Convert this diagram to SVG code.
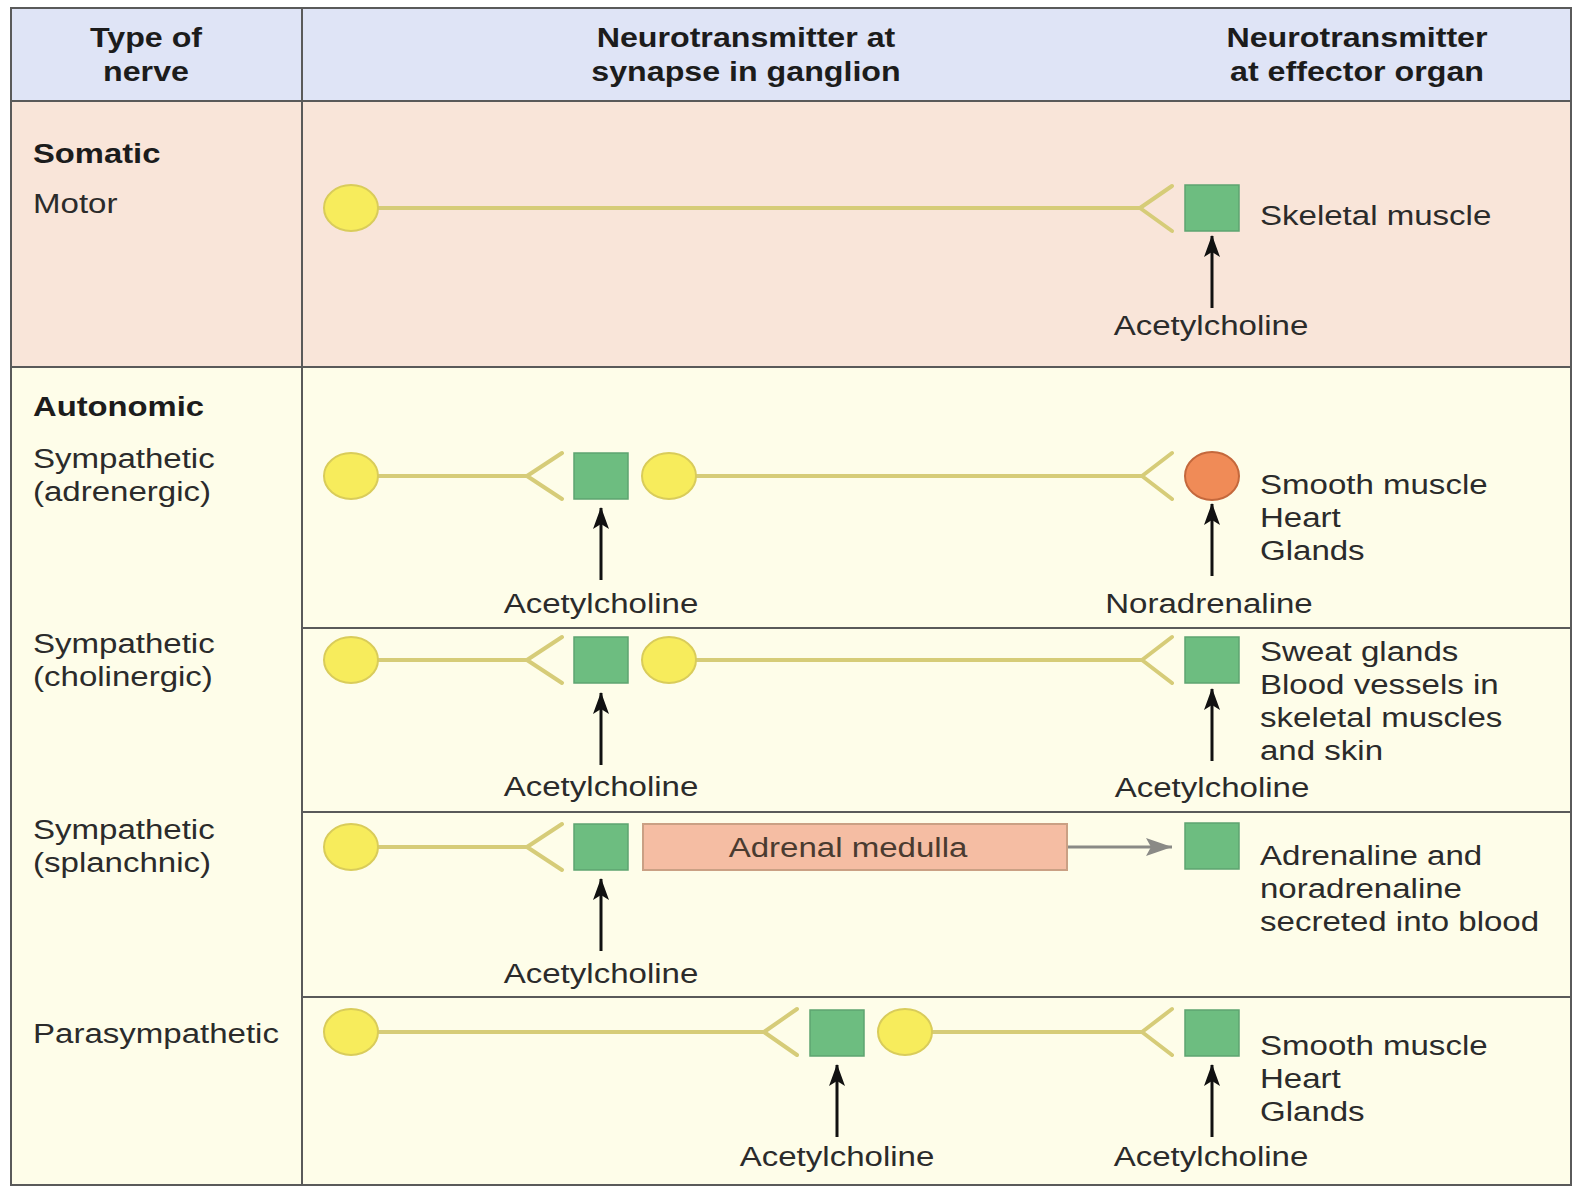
<svg xmlns="http://www.w3.org/2000/svg" width="1574" height="1188" viewBox="0 0 1574 1188">
<defs>
<marker id="ah" markerWidth="22" markerHeight="16" refX="21" refY="8" orient="auto" markerUnits="userSpaceOnUse" viewBox="0 0 22 16">
<path d="M0,0 L22,8 L0,16 L5,8 Z" fill="#111"/>
</marker>
<marker id="gh" markerWidth="26" markerHeight="18" refX="26" refY="9" orient="auto" markerUnits="userSpaceOnUse" viewBox="0 0 26 18">
<path d="M0,0 L26,9 L0,18 L5,9 Z" fill="#8a8a86"/>
</marker>
<style>
.t{font-family:"Liberation Sans",Arial,Helvetica,sans-serif;font-size:28px;fill:#2b2b2b}
.b{font-weight:bold;fill:#1c1c1c}
.m{text-anchor:middle}
.cell{stroke:#5a5a5a;stroke-width:2}
.nerve{fill:none;stroke:#d6cc78;stroke-width:4;stroke-linecap:round;stroke-linejoin:round}
.soma{fill:#f7ec5c;stroke:#d9cc5a;stroke-width:2}
.rec{fill:#6dbd80;stroke:#5ea470;stroke-width:1.5}
.nor{fill:#f08b57;stroke:#c4683c;stroke-width:2}
.arr{stroke:#111;stroke-width:3;marker-end:url(#ah)}
.garr{stroke:#8a8a86;stroke-width:3;marker-end:url(#gh)}
</style>
</defs>

<g id="table">
<rect x="11" y="8" width="1560" height="93" fill="#dfe4f6"/>
<rect x="11" y="101" width="1560" height="266" fill="#f9e5d9"/>
<rect x="11" y="367" width="1560" height="818" fill="#fefde9"/>
<rect x="11" y="8" width="1560" height="1177" fill="none" class="cell"/>
<line x1="11" y1="101" x2="1571" y2="101" class="cell"/>
<line x1="11" y1="367" x2="1571" y2="367" class="cell"/>
<line x1="302" y1="8" x2="302" y2="1185" class="cell"/>
<line x1="302" y1="628" x2="1571" y2="628" class="cell"/>
<line x1="302" y1="812" x2="1571" y2="812" class="cell"/>
<line x1="302" y1="997" x2="1571" y2="997" class="cell"/>
</g>

<g id="headers">
<text class="t b m" transform="translate(146,47) scale(1.15,1)"><tspan x="0" y="0">Type of</tspan><tspan x="0" y="34">nerve</tspan></text>
<text class="t b m" transform="translate(746,47) scale(1.15,1)"><tspan x="0" y="0">Neurotransmitter at</tspan><tspan x="0" y="34">synapse in ganglion</tspan></text>
<text class="t b m" transform="translate(1357,47) scale(1.15,1)"><tspan x="0" y="0">Neurotransmitter</tspan><tspan x="0" y="34">at effector organ</tspan></text>
</g>

<g id="row-labels">
<text class="t b" transform="translate(33,163) scale(1.17,1)">Somatic</text>
<text class="t" transform="translate(33,213) scale(1.18,1)">Motor</text>
<text class="t b" transform="translate(33,416) scale(1.17,1)">Autonomic</text>
<text class="t" transform="translate(33,468) scale(1.18,1)"><tspan x="0" y="0">Sympathetic</tspan><tspan x="0" y="33">(adrenergic)</tspan></text>
<text class="t" transform="translate(33,653) scale(1.18,1)"><tspan x="0" y="0">Sympathetic</tspan><tspan x="0" y="33">(cholinergic)</tspan></text>
<text class="t" transform="translate(33,839) scale(1.18,1)"><tspan x="0" y="0">Sympathetic</tspan><tspan x="0" y="33">(splanchnic)</tspan></text>
<text class="t" transform="translate(33,1043) scale(1.18,1)">Parasympathetic</text>
</g>

<g id="connectors">
<path class="nerve" d="M378,208 H1140 M1172,186 L1140,208 L1172,231"/>
<line class="arr" x1="1212" y1="308" x2="1212" y2="236"/>
<path class="nerve" d="M378,476 H527 M562,453 L527,476 L562,499"/>
<path class="nerve" d="M696,476 H1142 M1172,453 L1142,476 L1172,499"/>
<line class="arr" x1="601" y1="580" x2="601" y2="508"/>
<line class="arr" x1="1212" y1="576" x2="1212" y2="504"/>
<path class="nerve" d="M378,660 H527 M562,637 L527,660 L562,683"/>
<path class="nerve" d="M696,660 H1142 M1172,637 L1142,660 L1172,683"/>
<line class="arr" x1="601" y1="765" x2="601" y2="693"/>
<line class="arr" x1="1212" y1="761" x2="1212" y2="689"/>
<path class="nerve" d="M378,847 H527 M562,824 L527,847 L562,870"/>
<line class="garr" x1="1067" y1="847" x2="1172" y2="847"/>
<line class="arr" x1="601" y1="951" x2="601" y2="879"/>
<path class="nerve" d="M378,1032 H764 M797,1009 L764,1032 L797,1055"/>
<path class="nerve" d="M932,1032 H1142 M1172,1009 L1142,1032 L1172,1055"/>
<line class="arr" x1="837" y1="1137" x2="837" y2="1065"/>
<line class="arr" x1="1212" y1="1137" x2="1212" y2="1065"/>
</g>

<g id="somatic-motor">
<ellipse class="soma" cx="351" cy="208" rx="27" ry="23"/>
<rect class="rec" x="1185" y="185" width="54" height="46"/>
<text class="t" transform="translate(1260,225) scale(1.18,1)">Skeletal muscle</text>
<text class="t m" transform="translate(1211,335) scale(1.18,1)">Acetylcholine</text>
</g>

<g id="sympathetic-adrenergic">
<ellipse class="soma" cx="351" cy="476" rx="27" ry="23"/>
<rect class="rec" x="574" y="453" width="54" height="46"/>
<ellipse class="soma" cx="669" cy="476" rx="27" ry="23"/>
<ellipse class="nor" cx="1212" cy="476" rx="27" ry="24"/>
<text class="t" transform="translate(1260,494) scale(1.18,1)"><tspan x="0" y="0">Smooth muscle</tspan><tspan x="0" y="33">Heart</tspan><tspan x="0" y="66">Glands</tspan></text>
<text class="t m" transform="translate(601,613) scale(1.18,1)">Acetylcholine</text>
<text class="t m" transform="translate(1209,613) scale(1.18,1)">Noradrenaline</text>
</g>

<g id="sympathetic-cholinergic">
<ellipse class="soma" cx="351" cy="660" rx="27" ry="23"/>
<rect class="rec" x="574" y="637" width="54" height="46"/>
<ellipse class="soma" cx="669" cy="660" rx="27" ry="23"/>
<rect class="rec" x="1185" y="637" width="54" height="46"/>
<text class="t" transform="translate(1260,661) scale(1.18,1)"><tspan x="0" y="0">Sweat glands</tspan><tspan x="0" y="33">Blood vessels in</tspan><tspan x="0" y="66">skeletal muscles</tspan><tspan x="0" y="99">and skin</tspan></text>
<text class="t m" transform="translate(601,796) scale(1.18,1)">Acetylcholine</text>
<text class="t m" transform="translate(1212,797) scale(1.18,1)">Acetylcholine</text>
</g>

<g id="sympathetic-splanchnic">
<ellipse class="soma" cx="351" cy="847" rx="27" ry="23"/>
<rect class="rec" x="574" y="824" width="54" height="46"/>
<rect x="643" y="824" width="424" height="46" fill="#f5bda3" stroke="#caa084" stroke-width="2"/>
<text class="t m" style="fill:#4a3b30" transform="translate(848,857) scale(1.18,1)">Adrenal medulla</text>
<rect class="rec" x="1185" y="823" width="54" height="46"/>
<text class="t" transform="translate(1260,865) scale(1.18,1)"><tspan x="0" y="0">Adrenaline and</tspan><tspan x="0" y="33">noradrenaline</tspan><tspan x="0" y="66">secreted into blood</tspan></text>
<text class="t m" transform="translate(601,983) scale(1.18,1)">Acetylcholine</text>
</g>

<g id="parasympathetic">
<ellipse class="soma" cx="351" cy="1032" rx="27" ry="23"/>
<rect class="rec" x="810" y="1010" width="54" height="46"/>
<ellipse class="soma" cx="905" cy="1032" rx="27" ry="23"/>
<rect class="rec" x="1185" y="1010" width="54" height="46"/>
<text class="t" transform="translate(1260,1055) scale(1.18,1)"><tspan x="0" y="0">Smooth muscle</tspan><tspan x="0" y="33">Heart</tspan><tspan x="0" y="66">Glands</tspan></text>
<text class="t m" transform="translate(837,1166) scale(1.18,1)">Acetylcholine</text>
<text class="t m" transform="translate(1211,1166) scale(1.18,1)">Acetylcholine</text>
</g>
</svg>
